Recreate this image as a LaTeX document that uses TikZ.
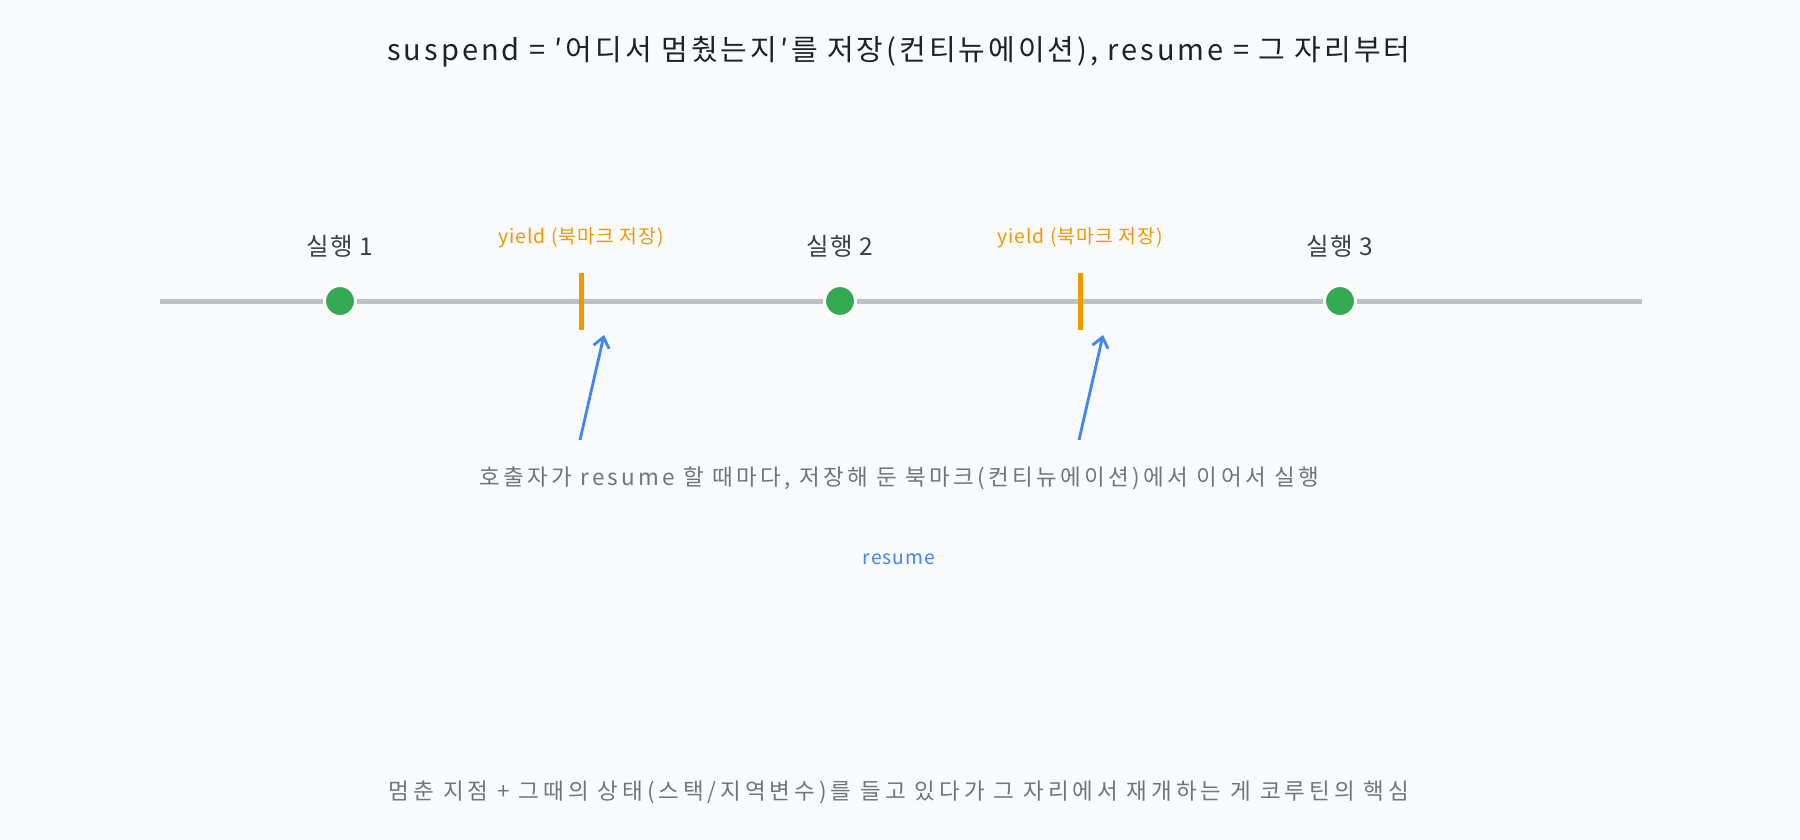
\documentclass[tikz,border=0pt]{standalone}
\usepackage{fontspec}
\setmainfont{Noto Sans CJK KR}
\newfontfamily\titlefont[LetterSpace=10.3]{Noto Sans CJK KR}
\newfontfamily\notefont[LetterSpace=14.8]{Noto Sans CJK KR}
\newfontfamily\summaryfont[LetterSpace=17.5]{Noto Sans CJK KR}
\newfontfamily\labelfont[LetterSpace=5.5]{Noto Sans CJK KR}
\usetikzlibrary{arrows.meta}

\definecolor{bgcol}{HTML}{F9FAFC}
\definecolor{linegray}{HTML}{BDC1C6}
\definecolor{rungreen}{HTML}{34A853}
\definecolor{yieldorange}{HTML}{F29900}
\definecolor{resumeblue}{HTML}{4285F4}
\definecolor{titlecol}{HTML}{202124}
\definecolor{labelcol}{HTML}{3C4043}
\definecolor{notecol}{HTML}{70757A}

\tikzset{
  title/.style={text=titlecol,font=\titlefont\fontsize{29}{34}\selectfont},
  runlabel/.style={text=labelcol,font=\labelfont\fontsize{24.5}{29}\selectfont},
  yieldlabel/.style={text=yieldorange,font=\labelfont\fontsize{19.3}{23}\selectfont},
  note/.style={text=notecol,font=\notefont\fontsize{22.5}{27}\selectfont},
  summary/.style={note,font=\summaryfont\fontsize{22.5}{27}\selectfont},
  timeline/.style={linegray,line width=5pt},
  rundot/.style={circle,fill=rungreen,draw=white,line width=3pt,minimum size=31pt,inner sep=0pt},
  yieldbar/.style={rectangle,fill=yieldorange,minimum width=5pt,minimum height=57pt,inner sep=0pt},
  resumearrow/.style={resumeblue,line width=2.8pt,->}
}

\begin{document}
\begin{tikzpicture}[x=1pt,y=-1pt,>={Straight Barb[length=10pt,width=16pt,line width=2.8pt]}]

\fill[bgcol] (0,0) rectangle (1800,840);

% Title
\node[title] (title) at (899,52) {suspend = ′어디서 멈췄는지′를 저장(컨티뉴에이션), resume = 그 자리부터};

% The timeline
\draw[timeline] (160,301) -- (1642,301);

% Runs
\foreach \x/\n in {340/1,840/2,1340/3}
{
	\node[rundot] (run\n) at (\x,301) {};
	\node[runlabel] (runlabel\n) at (\x,246) {실행 \n};
}

% Yields and the resume arrows
\foreach \x/\n in {581/1,1080/2}
{
	\node[yieldbar] (yield\n) at (\x,301) {};
	\node[yieldlabel] (yieldlabel\n) at (\x,238) {yield (북마크 저장)};
	\coordinate (from\n) at (\x-1,440);
	\coordinate (to\n) at (\x+23,335);
	\draw[resumearrow] (from\n) -- (to\n);
}

% Notes
\node[note] (caller) at (899,478) {호출자가 resume 할 때마다, 저장해 둔 북마크(컨티뉴에이션)에서 이어서 실행};
\node[yieldlabel,text=resumeblue] (resume) at (899,559) {resume};
\node[summary] (summary) at (899,792) {멈춘 지점 + 그때의 상태(스택/지역변수)를 들고 있다가 그 자리에서 재개하는 게 코루틴의 핵심};

\end{tikzpicture}
\end{document}
